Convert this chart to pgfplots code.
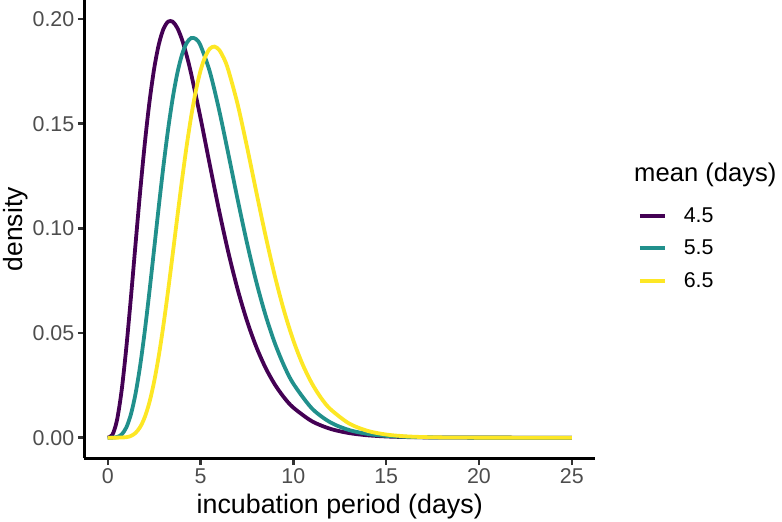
\documentclass[border=0pt]{standalone}
\usepackage{pgfplots}
\pgfplotsset{compat=1.18}
\usepackage{fontspec}
\setmainfont{Liberation Sans}
\definecolor{vir1}{HTML}{440154}
\definecolor{vir2}{HTML}{21908C}
\definecolor{vir3}{HTML}{FDE725}
\definecolor{ticktext}{HTML}{4D4D4D}
\definecolor{tickmark}{HTML}{333333}
\begin{document}
\begin{tikzpicture}[x=1pt,y=1pt]
\useasboundingbox (0,0) rectangle (782,522);
\begin{axis}[
  at={(84.5pt,63.5pt)}, anchor=south west,
  scale only axis, width=510.5pt, height=458.5pt,
  xmin=-1.25, xmax=26.25, ymin=-0.00996, ymax=0.2091,
  axis x line*=bottom, axis y line*=left,
  axis line style={-, line width=2.4pt, black},
  xtick pos=left, ytick pos=left,
  tick align=outside,
  major tick length=6.7pt,
  tick style={color=tickmark, line width=2.4pt},
  xtick={0,5,10,15,20,25},
  ytick={0,0.05,0.10,0.15,0.20},
  scaled y ticks=false,
  /pgf/number format/assume math mode=true,
  yticklabel style={/pgf/number format/.cd, fixed, fixed zerofill, precision=2},
  tick label style={font=\fontsize{21.4}{25}\selectfont, color=ticktext},
  xlabel={incubation period (days)},
  ylabel={density},
  every axis x label/.style={at={(axis description cs:0.5,-0.1047)}, anchor=center, font=\fontsize{26.8}{32}\selectfont},
  every axis y label/.style={at={(axis description cs:-0.1352,0.5)}, anchor=center, rotate=90, font=\fontsize{26.4}{32}\selectfont},
  clip=false,
  legend cell align=left,
  legend image code/.code={\draw[#1] (0pt,0pt) -- (25pt,0pt);},
  legend style={at={(axis description cs:1.0842,0.5650)}, anchor=north west,
    draw=none, fill=none, inner sep=0pt, outer sep=0pt,
    column sep=17pt, row sep=0pt,
    font=\fontsize{21.4}{25}\selectfont,
    nodes={inner sep=0pt, minimum height=32.5pt}},
]
\addplot[vir1, line width=3.8pt, smooth, tension=0.5] coordinates {
(0,0) (0.25,0.00130) (0.5,0.00834) (0.75,0.02254) (1,0.04278) (1.25,0.06690) (1.5,0.09257) (1.75,0.11770)
(2,0.14068) (2.25,0.16040) (2.5,0.17617) (2.75,0.18777) (3,0.19520) (3.25,0.19873) (3.5,0.19874) (3.75,0.19574)
(4,0.19023) (4.25,0.18270) (4.5,0.17366) (5,0.15274) (5.5,0.13035) (6,0.10851) (6.5,0.08846) (7,0.07084)
(7.5,0.05586) (8,0.04347) (8.5,0.03343) (9,0.02545) (9.5,0.01919) (10,0.014349) (11,0.007851) (12,0.004191)
(13,0.002191) (14,0.001125) (15,0.000569) (16,0.000284) (17,0.00014) (18,0.000068) (19,0.000033) (20,0.000016)
(22,0) (25,0)
};
\addlegendentry{4.5}
\addplot[vir2, line width=3.8pt, smooth, tension=0.5] coordinates {
(0,0) (0.25,0.00001) (0.5,0.000263) (0.75,0.001510) (1,0.004815) (1.25,0.011136) (1.5,0.021024) (1.75,0.034500)
(2,0.051094) (2.25,0.069969) (2.5,0.090072) (2.75,0.110297) (3,0.129599) (3.25,0.147092) (3.5,0.162087) (3.75,0.174126)
(4,0.182954) (4.25,0.188528) (4.5,0.190947) (4.75,0.190450) (5,0.187346) (5.5,0.174848) (6,0.156583) (6.5,0.135449)
(7,0.113757) (7.5,0.093139) (8,0.074587) (8.5,0.058578) (9,0.045219) (9.5,0.034374) (10,0.025772) (11,0.013972)
(12,0.007268) (13,0.003652) (14,0.001782) (15,0.000847) (16,0.000394) (17,0.000180) (18,0.0000806) (19,0.000035)
(20,0.000015) (22,0) (25,0)
};
\addlegendentry{5.5}
\addplot[vir3, line width=3.8pt, smooth, tension=0.5] coordinates {
(0,0) (0.5,0.000003) (1,0.000219) (1.25,0.000817) (1.5,0.002262) (1.75,0.005093) (2,0.009852) (2.25,0.016978)
(2.5,0.026705) (2.75,0.039016) (3,0.053632) (3.25,0.070046) (3.5,0.087576) (3.75,0.105461) (4,0.122903) (4.25,0.139182)
(4.5,0.153642) (4.75,0.165811) (5,0.175319) (5.25,0.182000) (5.5,0.185814) (5.75,0.186845) (6,0.185291) (6.25,0.181417)
(6.5,0.175549) (7,0.159226) (7.5,0.139092) (8,0.117593) (8.5,0.096602) (9,0.077362) (9.5,0.060562) (10,0.046455)
(10.5,0.034984) (11,0.025911) (11.5,0.018901) (12,0.013598) (13,0.006779) (14,0.003236) (15,0.001488) (16,0.000662)
(17,0.000286) (18,0.000121) (19,0.0000502) (20,0.00002) (22,0) (25,0)
};
\addlegendentry{6.5}
\node[anchor=west, inner sep=0pt, font=\fontsize{25.6}{30}\selectfont] at (axis description cs:1.0764,0.6183) {mean (days)};
\end{axis}
\end{tikzpicture}
\end{document}
